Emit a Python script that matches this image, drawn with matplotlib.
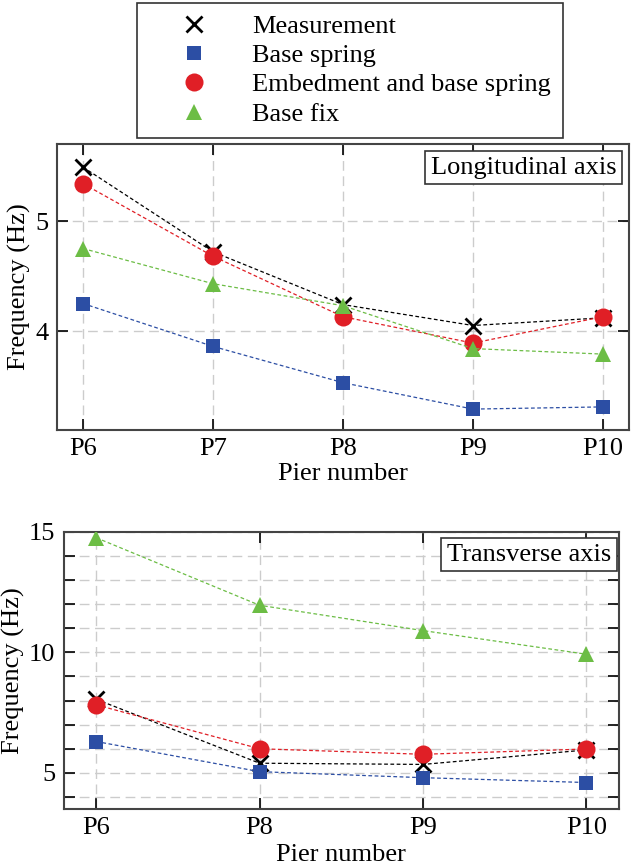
import numpy as np
import matplotlib
matplotlib.use("Agg")
from matplotlib import pyplot as plt
from matplotlib.ticker import MultipleLocator

plt.rcParams['font.family'] = ['Liberation Serif', 'DejaVu Serif']
plt.rcParams['font.size'] = 19
plt.rcParams['mathtext.fontset'] = 'stix'

# Longitudinal axis data
piers_long = ['P6', 'P7', 'P8', 'P9', 'P10']
meas_long = [5.49, 4.72, 4.24, 4.05, 4.12]
spring_long = [4.25, 3.86, 3.53, 3.29, 3.31]
embed_long = [5.34, 4.68, 4.13, 3.89, 4.13]
fix_long = [4.75, 4.43, 4.23, 3.84, 3.79]

# Transverse axis data
piers_trans = ['P6', 'P8', 'P9', 'P10']
meas_trans = [8.05, 5.4, 5.35, 5.95]
spring_trans = [6.3, 5.05, 4.8, 4.6]
embed_trans = [7.82, 6.0, 5.77, 5.99]
fix_trans = [14.75, 11.95, 10.9, 9.92]

labels = ['Measurement', 'Base spring', 'Embedment and base spring', 'Base fix']
colors = ['black', '#2c4ea4', '#e01f26', '#6cbd45']
markers = ['x', 's', 'o', '^']
msizes = [11, 10, 13, 11]

fig = plt.figure(figsize=(6.34, 8.65), dpi=100)
ax1 = fig.add_axes([0.0899, 0.5029, 0.9022, 0.3306])
ax2 = fig.add_axes([0.1002, 0.0647, 0.8762, 0.3206])


def draw(ax, piers, series, text, tx, ty):
    x = np.arange(len(piers))
    handles = []
    # base fix drawn first so the measurement crosses sit on top
    order = [3, 0, 1, 2]
    for i in order:
        h, = ax.plot(x, series[i], color=colors[i], ls=(0, (3, 2)), lw=0.9,
                     marker=markers[i], ms=msizes[i], mew=2 if i == 0 else 0,
                     mec=colors[i], label=labels[i], zorder=3 + i)
        handles.append((i, h))
    ax.set_xticks(x)
    ax.set_xticklabels(piers)
    ax.set_xlim(-0.2, len(piers) - 0.8)
    ax.set_ylabel('Frequency (Hz)', labelpad=3)
    ax.tick_params(direction='in', which='both', top=True, right=True,
                   length=8, width=1.2, pad=6)
    ax.grid(True, which='both', color='#cccccc', ls=(0, (7, 4)), lw=1)
    ax.set_axisbelow(True)
    for s in ax.spines.values():
        s.set_color('#444444')
        s.set_linewidth(1.5)
    ax.text(tx, ty, text, transform=ax.transAxes, ha='right', va='top',
            fontsize=19,
            bbox=dict(boxstyle='square,pad=0.22', fc='white', ec='#333333', lw=1.2))
    handles.sort()
    return [h for _, h in handles]


hs = draw(ax1, piers_long, [meas_long, spring_long, embed_long, fix_long],
          'Longitudinal axis', 0.978, 0.956)
ax1.set_ylim(3.1, 5.7)
ax1.set_yticks([4, 5])
ax1.set_xlabel('Pier number', labelpad=2)

draw(ax2, piers_trans, [meas_trans, spring_trans, embed_trans, fix_trans],
     'Transverse axis', 0.986, 0.957)
ax2.set_ylim(3.5, 15)
ax2.set_yticks([5, 10, 15])
ax2.yaxis.set_minor_locator(MultipleLocator(1))
ax2.set_xlabel('Pier number', labelpad=3)

leg = fig.legend(hs, labels, loc='upper center', bbox_to_anchor=(0.552, 0.997),
                 ncol=1, frameon=True, fancybox=False, edgecolor='black',
                 handlelength=3.4, handletextpad=0.53, labelspacing=0.22,
                 borderpad=0.45, borderaxespad=0, fontsize=19)
leg.get_frame().set_linewidth(1.2)
for lh in leg.legend_handles:
    lh.set_linestyle('none')

fig.savefig('out.png', dpi=100)
